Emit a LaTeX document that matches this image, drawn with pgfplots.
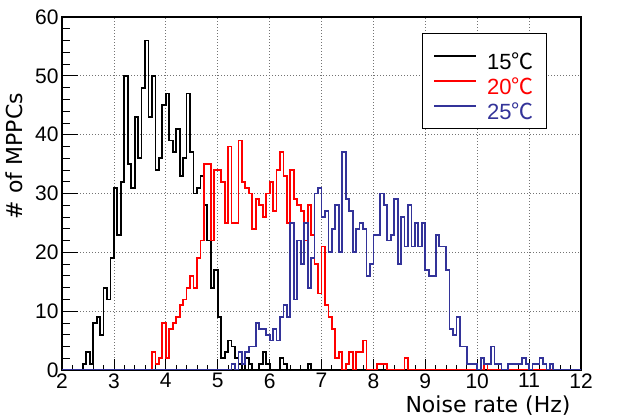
\documentclass[border=0pt]{standalone}
\usepackage{fontspec}
\setmainfont{Liberation Sans}
\newfontfamily\cjk{Noto Sans CJK JP}
\newfontfamily\titlefont{DejaVu Sans}
\usepackage{pgfplots}
\usepackage{pgfplotstable}
\pgfplotsset{compat=1.18}
\definecolor{rootred}{RGB}{255,0,0}
\definecolor{rootblue}{RGB}{51,51,153}

% 15 C : bin left edge, count (bin width 1/15 x 10^5 Hz)
\pgfplotstableread{
x y
2 0
2.4 1
2.4667 3
2.5333 1
2.6 8
2.6667 9
2.7333 6
2.8 14
2.8667 12
2.9333 19
3 31
3.0667 23
3.1333 32
3.2 50
3.2667 35
3.3333 31
3.4 43
3.4667 36
3.5333 48
3.6 56
3.6667 43
3.7333 50
3.8 34
3.8667 36
3.9333 45
4 47
4.0667 39
4.1333 37
4.2 41
4.2667 33
4.3333 36
4.4 47
4.4667 37
4.5333 30
4.6 31
4.6667 33
4.7333 28
4.8 22
4.8667 14
4.9333 17
5 9
5.0667 2
5.1333 3
5.2 5
5.2667 4
5.3333 2
5.4 1
5.4667 0
5.5333 2
5.6 1
5.6667 0
5.8 1
5.8667 3
5.9333 1
6 0
6.2 2
6.2667 1
6.3333 0
6.7333 1
6.8 0
12 0
}\blackdata

% 20 C
\pgfplotstableread{
x y
2 0
3.7333 3
3.8 1
3.8667 2
3.9333 8
4 2
4.0667 7
4.1333 8
4.2 9
4.2667 11
4.3333 12
4.4 14
4.4667 16
4.5333 14
4.6 19
4.6667 22
4.7333 35
4.8 35
4.8667 22
4.9333 34
5 34
5.0667 32
5.1333 25
5.2 38
5.2667 25
5.3333 25
5.4 39
5.4667 32
5.5333 31
5.6 30
5.6667 24
5.7333 29
5.8 28
5.8667 26
5.9333 30
6 32
6.0667 27
6.1333 34
6.2 37
6.2667 33
6.3333 25
6.4 34
6.4667 29
6.5333 28
6.6 27
6.6667 22
6.7333 28
6.8 23
6.8667 18
6.9333 13
7 21
7.0667 11
7.1333 9
7.2 7
7.2667 2
7.3333 3
7.4 0
7.4667 1
7.5333 3
7.6 0
7.6667 3
7.7333 3
7.8 5
7.8667 0
8.0667 1
8.2667 0
8.6 2
8.6667 0
10.1333 1
10.2 0
12 0
}\reddata

% 25 C
\pgfplotstableread{
x y
2 0
5.2667 1
5.3333 0
5.4 3
5.4667 1
5.5333 3
5.6 4
5.6667 4
5.7333 8
5.8 7
5.8667 7
5.9333 6
6 5
6.0667 7
6.1333 5
6.2 9
6.2667 11
6.3333 9
6.4 25
6.4667 12
6.5333 22
6.6 18
6.6667 25
6.7333 14
6.8 19
6.8667 30
6.9333 31
7 26
7.0667 27
7.1333 20
7.2 24
7.2667 28
7.3333 20
7.4 37
7.4667 29
7.5333 27
7.6 20
7.6667 24
7.7333 25
7.8 24
7.8667 16
7.9333 18
8 23
8.0667 23
8.1333 30
8.2 28
8.2667 22
8.3333 23
8.4 29
8.4667 18
8.5333 26
8.6 21
8.6667 28
8.7333 21
8.8 25
8.8667 21
8.9333 25
9 17
9.0667 16
9.1333 16
9.2 23
9.2667 21
9.3333 21
9.4 17
9.4667 7
9.5333 6
9.6 9
9.6667 4
9.7333 4
9.8 1
9.8667 1
9.9333 1
10 0
10.0667 2
10.1333 1
10.2 1
10.2667 4
10.3333 1
10.4 1
10.4667 0
10.6 1
10.6667 1
10.7333 1
10.8 1
10.8667 2
10.9333 1
11 0
11.0667 1
11.1333 1
11.2 2
11.2667 1
11.3333 0
11.4 1
11.4667 0
12 0
}\bluedata

\begin{document}
\begin{tikzpicture}
\useasboundingbox (0bp,0bp) rectangle (630bp,419bp);
\begin{axis}[
  at={(62bp,49bp)}, anchor=south west,
  scale only axis, width=519bp, height=353bp,
  xmin=2, xmax=12, ymin=0, ymax=60,
  xtick={2,3,...,12}, ytick={0,10,...,60},
  minor x tick num=4, minor y tick num=4,
  tick align=inside, xtick pos=bottom, ytick pos=left,
  xtick style={/pgfplots/major tick length=10.6bp, /pgfplots/minor tick length=5.3bp, black, line width=0.8bp},
  ytick style={/pgfplots/major tick length=15.6bp, /pgfplots/minor tick length=7.8bp, black, line width=0.8bp},
  grid=major,
  major grid style={black!55, dash pattern=on 1bp off 2bp, line width=0.7bp},
  axis line style={black, line width=1.2bp},
  tick label style={font=\fontsize{21bp}{25bp}\selectfont},
  /pgf/number format/assume math mode=true,
  xlabel={Noise rate (Hz)},
  xlabel style={at={(axis description cs:0.9865,-0.102)}, anchor=east, font=\titlefont\fontsize{22bp}{26bp}\selectfont},
  ylabel={\# of MPPCs},
  ylabel style={at={(axis description cs:-0.0925,0.606)}, anchor=center, font=\titlefont\fontsize{22bp}{26bp}\selectfont},
  legend style={at={(axis description cs:0.6932,0.9538)}, anchor=north west, draw=black, line width=1bp, fill=white,
    inner xsep=11bp, inner ysep=7.2bp, row sep=-5.65bp, font=\fontsize{22bp}{26bp}\selectfont,
    nodes={inner sep=2bp, text height=26.5bp, text depth=0bp},
    /tikz/every odd column/.append style={column sep=8bp}},
  legend image code/.code={\draw[#1] (0bp,0bp) -- (42bp,0bp);},
  legend cell align=left,
]
\addplot[const plot mark left, black, line width=1.8bp] table {\blackdata};
\addlegendentry{15{\cjk ℃}}
\addplot[const plot mark left, rootred, line width=1.8bp] table {\reddata};
\addlegendentry{\textcolor{rootred}{20{\cjk ℃}}}
\addplot[const plot mark left, rootblue, line width=1.8bp] table {\bluedata};
\addlegendentry{\textcolor{rootblue}{25{\cjk ℃}}}
\node[anchor=west, font=\fontsize{21bp}{25bp}\selectfont] at (axis description cs:1.003,0.034) {×10\raisebox{0.45em}{\fontsize{15bp}{15bp}\selectfont 5}};
\end{axis}
\end{tikzpicture}
\end{document}
